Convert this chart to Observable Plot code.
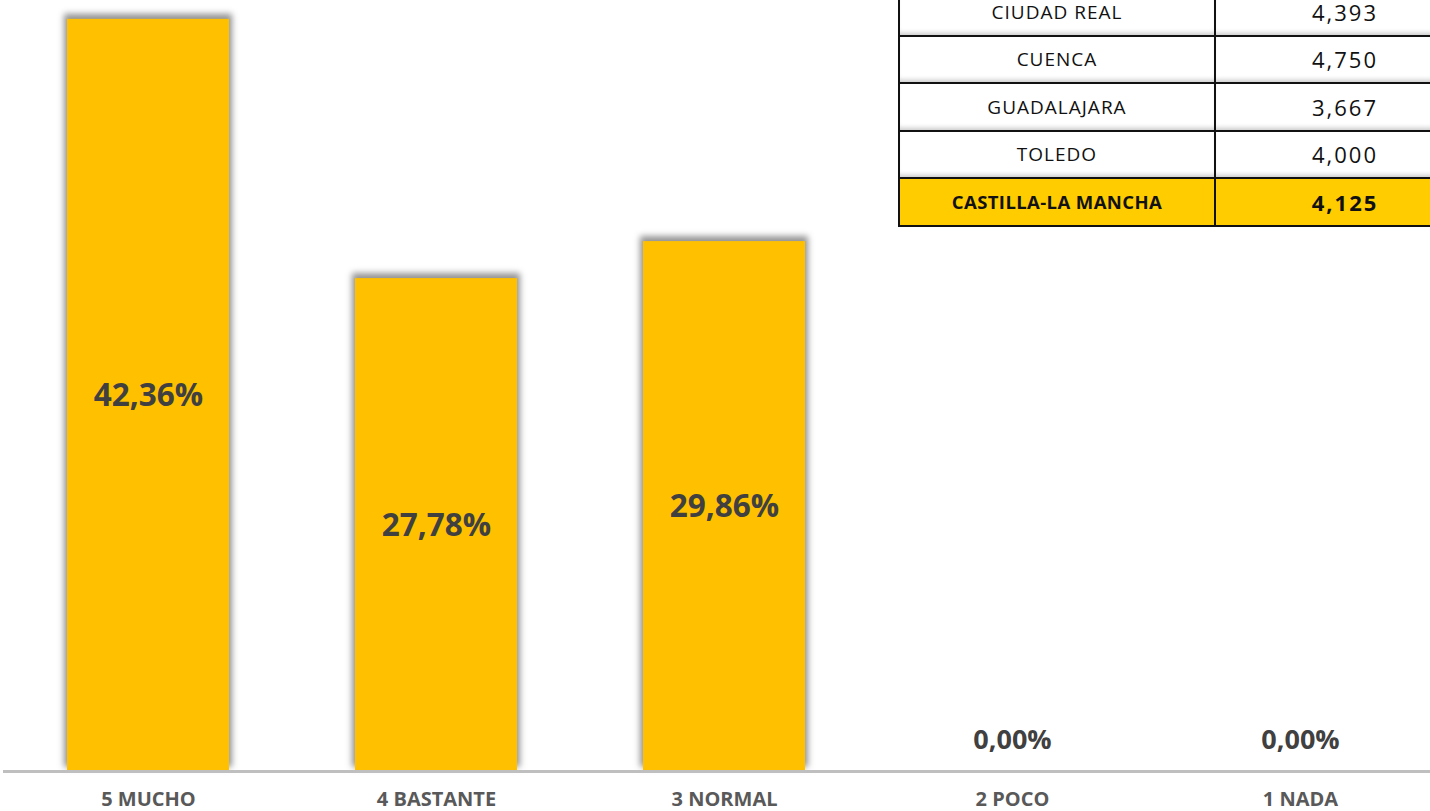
<!DOCTYPE html>
<html>
<head>
<meta charset="utf-8">
<script src="https://cdn.jsdelivr.net/npm/d3@7"></script>
<script src="https://cdn.jsdelivr.net/npm/@observablehq/plot@0.6"></script>
<style>
  html, body { margin: 0; padding: 0; background: #fff; }
  #wrap { position: relative; width: 1430px; height: 811px; overflow: hidden; background: #fff; }
  #chart { position: absolute; left: 0; top: 0; width: 1446px; }
  #chart svg { max-width: none !important; }
  #tbl { position: absolute; left: 898px; top: -13px; width: 578px; table-layout: fixed;
         border-collapse: collapse; font-family: "Open Sans", sans-serif; }
  #tbl td { border: 2.5px solid #111; height: 45.5px; padding: 0; text-align: center; color: #111;
            box-shadow: inset 0 -5px 5px -3px rgba(0,0,0,0.22); white-space: nowrap; }
  #tbl td.name { width: 314px; font-size: 19px; letter-spacing: 1px; }
  #tbl td.val { width: 258px; font-size: 22px; letter-spacing: 2px; }
  #tbl tr.total td { background: #FFCC00; font-weight: 700; box-shadow: none; }
  #tbl tr.total td.name { letter-spacing: 0.4px; font-size: 18.5px; }
</style>
</head>
<body>
<div id="wrap">
  <div id="chart"></div>
  <table id="tbl"></table>
</div>
<script>
// Chart data
const categories = ["5 MUCHO", "4 BASTANTE", "3 NORMAL", "2 POCO", "1 NADA"];
const percentages = [42.36, 27.78, 29.86, 0.00, 0.00];

// Table data
const provinces = ["CIUDAD REAL", "CUENCA", "GUADALAJARA", "TOLEDO", "CASTILLA-LA MANCHA"];
const means = [4.393, 4.750, 3.667, 4.000, 4.125];

const data = categories.map((c, i) => ({cat: c, v: percentages[i]}));
const fmtPct = v => v.toFixed(2).replace(".", ",") + "%";
const fmtMean = v => v.toFixed(3).replace(".", ",");

const plot = Plot.plot({
  width: 1446,
  height: 811,
  marginTop: 0,
  marginBottom: 39,
  marginLeft: 3,
  marginRight: 1,
  style: {background: "transparent", maxWidth: "none", overflow: "visible"},
  x: {domain: categories, paddingInner: 0.438, paddingOuter: 0.219, axis: null},
  y: {domain: [0, 43.42], axis: null},
  marks: [
    Plot.barY(data.filter(d => d.v > 0), {x: "cat", y: "v", fill: "#6f6f6f", fillOpacity: 0.75, dy: -5, insetLeft: -3, insetRight: -3}),
    Plot.barY(data, {x: "cat", y: "v", fill: "#FFC000"}),
    Plot.ruleY([0], {stroke: "#BFBFBF", strokeWidth: 3, dy: -1}),
    Plot.text(data.filter(d => d.v > 0), {x: "cat", y: d => d.v / 2, text: d => fmtPct(d.v),
      fontSize: 31.5, fontWeight: 700, fill: "#404040", fontFamily: "Open Sans", lineAnchor: "middle"}),
    Plot.text(data.filter(d => d.v === 0), {x: "cat", y: 0, dy: -32, text: d => fmtPct(d.v),
      fontSize: 27, fontWeight: 700, fill: "#404040", fontFamily: "Open Sans", lineAnchor: "middle"}),
    Plot.text(data, {x: "cat", y: 0, dy: 27, text: "cat",
      fontSize: 20, fontWeight: 700, fill: "#595959", fontFamily: "Open Sans", lineAnchor: "middle"})
  ]
});
// soften the shadow layer
const bars = plot.querySelectorAll('g[aria-label="bar"]');
if (bars.length) bars[0].style.filter = "blur(3px)";
document.getElementById("chart").appendChild(plot);

// Table
const tbl = d3.select("#tbl");
const rows = tbl.selectAll("tr").data(provinces.map((p, i) => ({p, m: means[i], total: i === provinces.length - 1})))
  .join("tr").attr("class", d => d.total ? "total" : null);
rows.append("td").attr("class", "name").text(d => d.p);
rows.append("td").attr("class", "val").text(d => fmtMean(d.m));
</script>
</body>
</html>
